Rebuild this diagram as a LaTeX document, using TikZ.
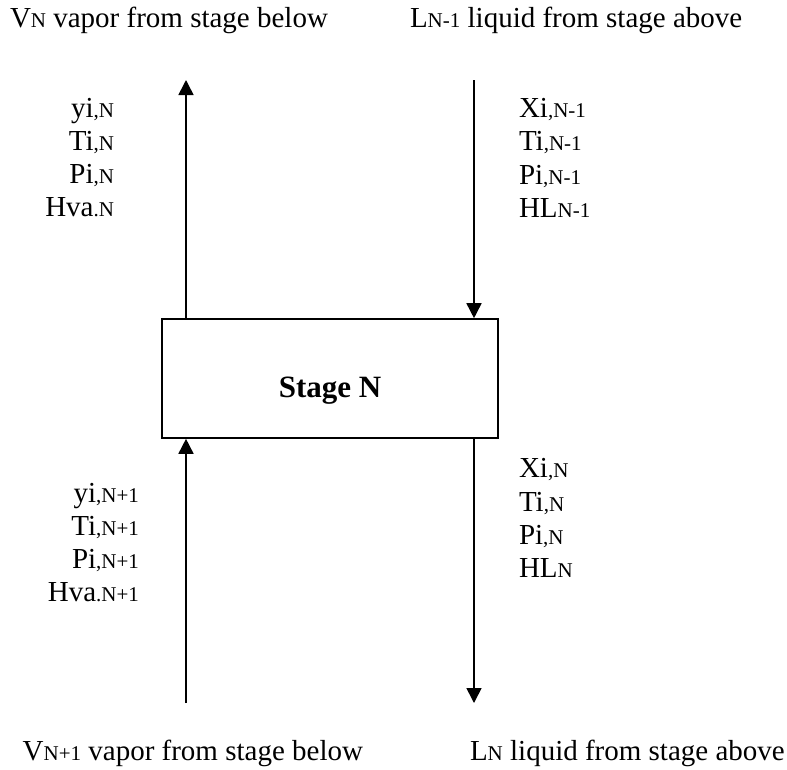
\documentclass[tikz,border=0pt]{standalone}
\usepackage{fontspec}
\setmainfont{Liberation Serif}
\usetikzlibrary{arrows.meta}
\newcommand\sbs[1]{{\fontsize{21}{21}\selectfont #1}}
\newcommand\mainsz{\fontsize{29}{33}\selectfont}
\tikzset{
  lbl/.style={inner sep=0pt, outer sep=0pt, font=\mainsz},
  flow/.style={line width=1.6pt, -{Triangle[length=15pt,width=15pt]}},
  stagebox/.style={draw, line width=1.6pt, inner sep=0pt, minimum width=336pt, minimum height=119pt}
}
\begin{document}
\begin{tikzpicture}[x=1pt,y=-1pt]
\useasboundingbox (0,0) rectangle (787,769);
% stage box
\node[stagebox] (stage) at (330,378.5) {};
\node[lbl, anchor=base, font=\fontsize{31}{33}\selectfont\bfseries] (stagelbl) at (330,397) {Stage N};
% end points
\coordinate (vtop) at (186,80);
\coordinate (ltop) at (474,80);
\coordinate (vbot) at (186,703);
\coordinate (lbot) at (474,703);
% connectors
\draw[flow] (stage.north -| vtop) -- (vtop);
\draw[flow] (ltop) -- (stage.north -| ltop);
\draw[flow] (vbot) -- (stage.south -| vbot);
\draw[flow] (stage.south -| lbot) -- (lbot);
% top and bottom titles
\node[lbl, anchor=base west] (t1) at (10,27) {V\sbs{N} vapor from stage below};
\node[lbl, anchor=base west] (t2) at (410,27) {L\sbs{N-1} liquid from stage above};
\node[lbl, anchor=base east] (b1) at (363,760) {V\sbs{N+1} vapor from stage below};
\node[lbl, anchor=base west] (b2) at (470,760) {L\sbs{N} liquid from stage above};
% upper left block
\node[lbl, anchor=base east] (a1) at (114,117) {yi\sbs{,N}};
\node[lbl, anchor=base east] (a2) at (114,150) {Ti\sbs{,N}};
\node[lbl, anchor=base east] (a3) at (114,183) {Pi\sbs{,N}};
\node[lbl, anchor=base east] (a4) at (114,216) {Hva\sbs{.N}};
% upper right block
\node[lbl, anchor=base west] (c1) at (519,117) {Xi\sbs{,N-1}};
\node[lbl, anchor=base west] (c2) at (519,150) {Ti\sbs{,N-1}};
\node[lbl, anchor=base west] (c3) at (519,184) {Pi\sbs{,N-1}};
\node[lbl, anchor=base west] (c4) at (519,217) {HL\sbs{N-1}};
% lower left block
\node[lbl, anchor=base east] (d1) at (139,502) {yi\sbs{,N+1}};
\node[lbl, anchor=base east] (d2) at (139,535) {Ti\sbs{,N+1}};
\node[lbl, anchor=base east] (d3) at (139,568) {Pi\sbs{,N+1}};
\node[lbl, anchor=base east] (d4) at (139,601) {Hva\sbs{.N+1}};
% lower right block
\node[lbl, anchor=base west] (e1) at (519,477) {Xi\sbs{,N}};
\node[lbl, anchor=base west] (e2) at (519,511) {Ti\sbs{,N}};
\node[lbl, anchor=base west] (e3) at (519,544) {Pi\sbs{,N}};
\node[lbl, anchor=base west] (e4) at (519,577) {HL\sbs{N}};
\end{tikzpicture}
\end{document}
